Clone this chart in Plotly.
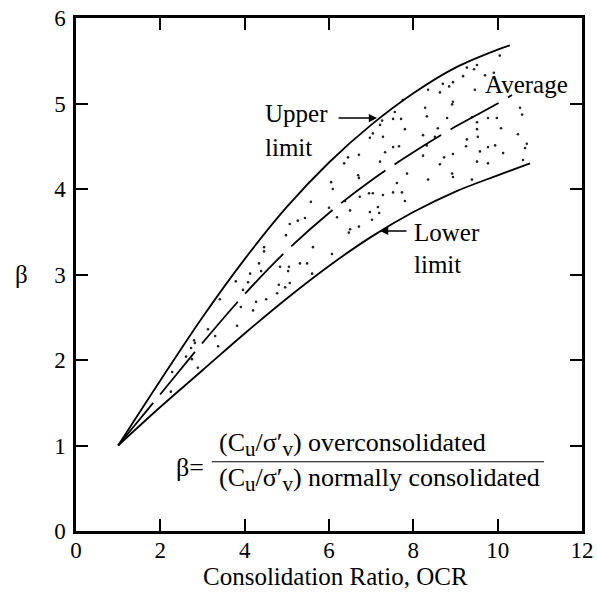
import plotly.graph_objects as go

# curves (OCR, beta)
ocr_upper = [1, 2, 3, 4, 5, 6, 7, 8, 9, 10, 10.29]
beta_upper = [1.0, 1.76, 2.50, 3.18, 3.79, 4.31, 4.75, 5.12, 5.42, 5.63, 5.68]

ocr_avg = [1, 2, 3, 4, 5, 6, 7, 8, 9, 10, 10.34]
beta_avg = [1.0, 1.60, 2.20, 2.77, 3.28, 3.72, 4.10, 4.43, 4.73, 5.00, 5.10]

ocr_lower = [1, 2, 3, 4, 5, 6, 7, 8, 9, 10, 10.77]
beta_lower = [1.0, 1.45, 1.88, 2.31, 2.72, 3.10, 3.44, 3.73, 3.97, 4.16, 4.30]

# scattered data dots inside the band
dot_x = [2.80, 2.82, 3.37, 2.73, 2.61, 2.75, 2.89, 2.28, 2.25,
         4.46, 4.46, 5.31, 5.48, 4.34, 5.05, 4.84, 4.39, 5.03, 4.13, 5.60, 3.79, 4.08,
         5.07, 4.81, 4.96, 3.96, 4.77, 3.41, 4.51, 4.27, 3.91, 4.20, 3.82, 3.13, 3.30,
         6.45, 6.71, 6.36, 6.69, 6.71, 6.05, 6.09, 6.95, 6.73, 7.80, 5.57, 6.38, 6.97,
         6.50, 7.16, 6.00, 6.19, 5.43, 5.26, 7.19, 7.02, 5.07, 4.98, 6.50, 6.71, 6.47,
         5.62, 6.07,
         10.05, 9.51, 9.27, 9.44, 9.91, 9.70, 8.70, 8.94, 8.85, 8.35, 8.63, 9.18, 9.46,
         8.94, 8.92, 8.28, 7.75, 7.56, 10.53, 10.58, 7.71, 7.52, 8.32, 8.80, 9.39, 9.77,
         9.98, 9.51, 7.26, 7.21, 7.80, 8.58, 9.51, 10.08, 8.23, 8.51, 7.04, 7.28, 6.97,
         9.27, 10.48, 9.53, 7.52, 7.66, 8.32, 9.25, 9.58, 9.77, 9.94, 10.69, 10.65, 7.33,
         8.23, 8.73, 8.94, 10.13, 8.63, 9.51, 9.77, 10.60, 7.21, 7.85, 8.92, 8.94, 8.35,
         7.61, 7.73, 7.52, 9.39, 7.28, 7.04]
dot_y = [2.23, 2.20, 2.16, 2.14, 2.04, 2.01, 1.91, 1.86, 1.63,
         3.32, 3.27, 3.13, 3.13, 3.13, 3.09, 3.09, 3.04, 3.04, 3.01, 3.01, 2.92, 2.91,
         2.90, 2.88, 2.85, 2.82, 2.78, 2.71, 2.71, 2.68, 2.62, 2.58, 2.40, 2.36, 2.28,
         4.37, 4.40, 4.30, 4.16, 4.13, 4.08, 4.00, 3.95, 3.91, 3.86, 3.85, 3.86, 3.73,
         3.75, 3.79, 3.78, 3.67, 3.66, 3.63, 3.72, 3.64, 3.59, 3.46, 3.53, 3.56, 3.49,
         3.32, 3.24,
         5.56, 5.45, 5.42, 5.40, 5.36, 5.33, 5.23, 5.25, 5.20, 5.16, 5.13, 5.32, 5.16,
         5.02, 4.99, 4.95, 5.04, 4.90, 4.95, 4.87, 4.82, 4.82, 4.85, 4.83, 4.84, 4.83,
         4.83, 4.78, 4.80, 4.75, 4.70, 4.71, 4.70, 4.71, 4.63, 4.61, 4.65, 4.61, 4.60,
         4.58, 4.64, 4.61, 4.49, 4.50, 4.51, 4.50, 4.44, 4.49, 4.51, 4.53, 4.48, 4.43,
         4.39, 4.37, 4.41, 4.42, 4.29, 4.32, 4.30, 4.34, 4.32, 4.18, 4.18, 4.14, 4.11,
         4.07, 3.96, 3.96, 4.11, 3.93, 3.95]

serif = 'Liberation Serif'

fig = go.Figure()

fig.add_trace(go.Scatter(x=dot_x, y=dot_y, mode='markers',
                         marker=dict(size=2.6, color='#222222'), showlegend=False))
fig.add_trace(go.Scatter(x=ocr_upper, y=beta_upper, mode='lines', line_shape='spline',
                         line=dict(color='black', width=1.8), showlegend=False))
fig.add_trace(go.Scatter(x=ocr_avg, y=beta_avg, mode='lines', line_shape='spline',
                         line=dict(color='black', width=1.8, dash='55px,11px'), showlegend=False))
fig.add_trace(go.Scatter(x=ocr_lower, y=beta_lower, mode='lines', line_shape='spline',
                         line=dict(color='black', width=1.8), showlegend=False))

txt = dict(family=serif, size=25, color='black')
ann = [
    dict(x=4.43, y=4.88, text='Upper', xanchor='left'),
    dict(x=4.43, y=4.48, text='limit', xanchor='left'),
    dict(x=9.65, y=5.22, text='Average', xanchor='left'),
    dict(x=7.97, y=3.49, text='Lower', xanchor='left'),
    dict(x=7.97, y=3.12, text='limit', xanchor='left'),
]
for a in ann:
    fig.add_annotation(xref='x', yref='y', showarrow=False, font=txt, **a)

# arrows
fig.add_annotation(x=7.14, y=4.83, ax=-40, ay=0, text='', showarrow=True,
                   arrowhead=2, arrowsize=1.1, arrowwidth=1.5, arrowcolor='black')
fig.add_annotation(x=7.21, y=3.51, ax=28, ay=0, text='', showarrow=True,
                   arrowhead=2, arrowsize=1.1, arrowwidth=1.5, arrowcolor='black')

# formula
ftxt = dict(family=serif, size=26, color='black')
sub = '<sub><span style="font-size:21px">%s</span></sub>'
frac = '(C' + sub % 'u' + '/σ′' + sub % 'v' + ') '
fig.add_annotation(x=2.70, y=0.74, text='β=', showarrow=False, font=ftxt)
fig.add_annotation(x=3.34, y=1.01, xanchor='left', showarrow=False, font=ftxt,
                   text=frac + 'overconsolidated')
fig.add_annotation(x=3.34, y=0.60, xanchor='left', showarrow=False, font=ftxt,
                   text=frac + 'normally consolidated')
fig.add_shape(type='line', x0=3.22, x1=11.1, y0=0.81, y1=0.81,
              line=dict(color='black', width=1.2))

# axis titles as annotations (beta is horizontal)
fig.add_annotation(xref='paper', yref='y', x=-0.125, y=3, text='β', showarrow=False,
                   font=dict(family=serif, size=25, color='black'))
fig.add_annotation(xref='paper', yref='paper', x=0.512, y=0, yanchor='middle', yshift=-45,
                   text='Consolidation Ratio, OCR', showarrow=False,
                   font=dict(family=serif, size=25, color='black'))

axis_common = dict(showgrid=False, zeroline=False, showline=True, linecolor='black',
                   linewidth=2.5, mirror='ticks', ticks='inside', ticklen=12,
                   tickwidth=2.2, tickcolor='black', automargin=False,
                   tickfont=dict(family=serif, size=23, color='black'))

fig.update_layout(
    width=597, height=592,
    margin=dict(l=76, r=15, t=18, b=61),
    plot_bgcolor='white', paper_bgcolor='white',
    font=dict(family=serif),
    xaxis=dict(range=[0, 12], dtick=2, tick0=0, ticklabelstandoff=-3, **axis_common),
    yaxis=dict(range=[0, 6], dtick=1, tick0=0, ticklabelstandoff=3, **axis_common),
)

# drop the default page margin so the figure fills the window
fig.write_html("out.html", config={'displayModeBar': False},
               post_script="document.body.style.margin='0';document.body.style.overflow='hidden';")
